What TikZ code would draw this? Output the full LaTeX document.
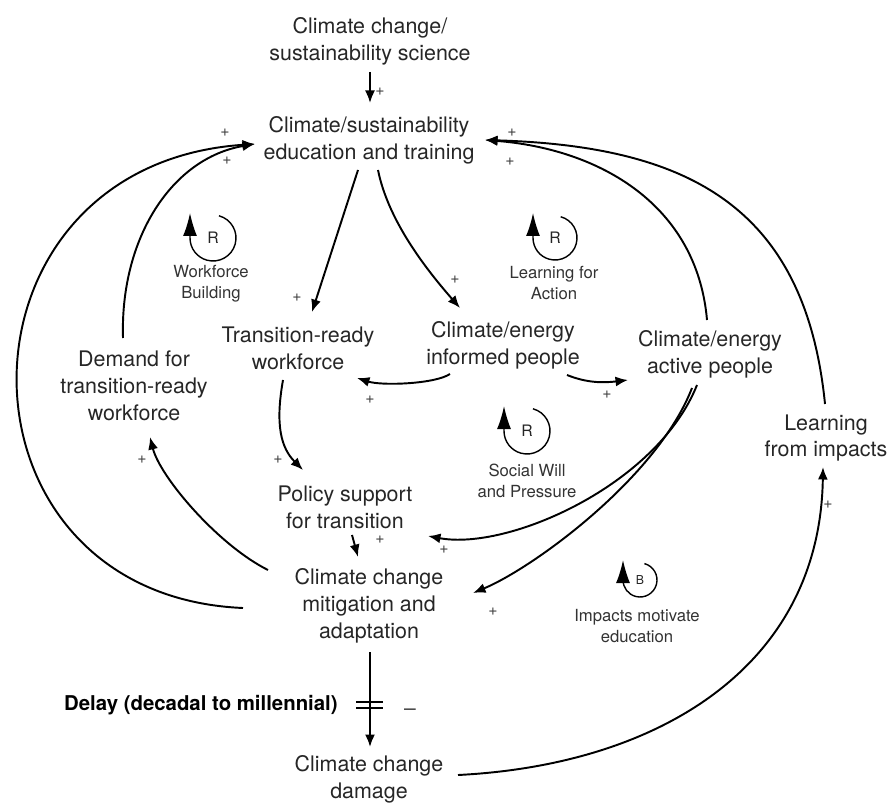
\documentclass[tikz,border=0pt]{standalone}
\usepackage{fontspec}
\setmainfont{TeX Gyre Heros}
\usetikzlibrary{arrows.meta}

\tikzset{
  var/.style={align=center, inner sep=0pt, text=black!85, font=\fontsize{12.2}{15.3}\selectfont},
  loopname/.style={align=center, inner sep=0pt, text=black!80, font=\fontsize{9.5}{12}\selectfont},
  looptag/.style={inner sep=0pt, text=black!85, font=\fontsize{9}{9}\selectfont},
  signlab/.style={inner sep=0pt, text=black!75, font=\fontsize{9}{9}\selectfont},
  link/.style={line width=1.1pt, -{Latex[length=0.25cm,width=0.2cm]}},
  looparrow/.style={line width=0.8pt, -{Latex[length=0.46cm,width=0.28cm]}}
}

\begin{document}
\begin{tikzpicture}[x=0.02cm,y=-0.02cm]
	\useasboundingbox (0,0) rectangle (891,803);

	% variables
	\node[var] (sci) at (370,41) {Climate change/\\sustainability science};
	\node[var] (edu) at (369,140) {Climate/sustainability\\education and training};
	\node[var] (trw) at (298,348) {Transition-ready\\workforce};
	\node[var] (inf) at (503,345) {Climate/energy\\informed people};
	\node[var] (act) at (710,354) {Climate/energy\\active people};
	\node[var] (dem) at (134,386) {Demand for\\transition-ready\\workforce};
	\node[var] (lfi) at (826,438) {Learning\\from impacts};
	\node[var] (pol) at (345,507) {Policy support\\for transition};
	\node[var] (mit) at (369,606) {Climate change\\mitigation and\\adaptation};
	\node[var] (dmg) at (369,779) {Climate change\\damage};
	\node[font=\fontsize{11.6}{14}\selectfont\bfseries, inner sep=0pt, anchor=east] (dly) at (338,705) {Delay (decadal to millennial)};

	% links
	\draw[link] ([shift={(0,31)}]sci.center) -- ([shift={(1,-37)}]edu.center);
	\draw[link] ([shift={(-11,30)}]edu.center) -- ([shift={(14,-36)}]trw.center);
	\draw[link] ([shift={(9,30)}]edu.center) .. controls +(10,50) and +(-35,-40) .. ([shift={(-43,-37)}]inf.center);
	\draw[link] ([shift={(-53,29)}]inf.center) .. controls +(-15,10) and +(25,8) .. ([shift={(59,30)}]trw.center);
	\draw[link] ([shift={(64,30)}]inf.center) .. controls +(20,8) and +(-25,3) .. ([shift={(-82,26)}]act.center);
	\draw[link] ([shift={(-15,32)}]trw.center) .. controls +(-8,45) and +(-22,-22) .. ([shift={(-42,-37)}]pol.center);
	\draw[link] ([shift={(7,28)}]pol.center) -- ([shift={(-11,-49)}]mit.center);
	\draw[link] ([shift={(-13,31)}]act.center) .. controls +(-40,100) and +(80,15) .. ([shift={(83,29)}]pol.center);
	\draw[link] ([shift={(-18,34)}]act.center) .. controls +(-35,90) and +(60,-25) .. ([shift={(104,-13)}]mit.center);
	\draw[link] ([shift={(-101,-36)}]mit.center) .. controls +(-50,-25) and +(10,40) .. ([shift={(16,51)}]dem.center);
	\draw[link] ([shift={(-126,2)}]mit.center) .. controls +(-302,-13) and +(-314,21) .. ([shift={(-114,4)}]edu.center);
	\draw[link] ([shift={(-11,-48)}]dem.center) .. controls +(-3,-100) and +(-83,14) .. ([shift={(-114,4)}]edu.center);
	\draw[link] ([shift={(-3,-34)}]act.center) .. controls +(-10,-115) and +(115,9) .. ([shift={(116,0)}]edu.center);
	\draw[link] ([shift={(-1,-34)}]lfi.center) .. controls +(-20,-200) and +(200,6) .. ([shift={(116,0)}]edu.center);
	\draw[link] ([shift={(89,-4)}]dmg.center) .. controls +(200,-10) and +(-3,200) .. ([shift={(-3,29)}]lfi.center);
	\draw[link] ([shift={(1,46)}]mit.center) -- ([shift={(1,-32)}]dmg.center);

	% delay mark
	\coordinate (bar) at (370,705);
	\draw[line width=1.1pt] ([shift={(-14,-3)}]bar) -- ++(27,0);
	\draw[line width=1.1pt] ([shift={(-14,3)}]bar) -- ++(27,0);

	% polarities
	\node[signlab] (s1) at (380,92) {+};
	\node[signlab] (s2) at (225,133) {+};
	\node[signlab] (s3) at (227,161) {+};
	\node[signlab] (s4) at (512,133) {+};
	\node[signlab] (s5) at (510,162) {+};
	\node[signlab] (s6) at (297,298) {+};
	\node[signlab] (s7) at (455,280) {+};
	\node[signlab] (s8) at (370,400) {+};
	\node[signlab] (s9) at (607,395) {+};
	\node[signlab] (s10) at (278,460) {+};
	\node[signlab] (s11) at (380,540) {+};
	\node[signlab] (s12) at (444,550) {+};
	\node[signlab] (s13) at (493,612) {+};
	\node[signlab] (s14) at (142,460) {+};
	\node[signlab] (s15) at (828,505) {+};
	\node[signlab, font=\fontsize{12}{12}\selectfont] (s16) at (410,712) {\textendash};

	% loops
	\node[looptag] (wfbR) at (213,238) {R};
	\draw[looparrow] ([shift={(75:0.46cm)}]wfbR.center) arc[start angle=75,end angle=-180,radius=0.46cm] -- ++(0,0.5cm);
	\node[loopname] (wfb) at (211,284) {Workforce\\Building};

	\node[looptag] (lfaR) at (555,238) {R};
	\draw[looparrow] ([shift={(75:0.44cm)}]lfaR.center) arc[start angle=75,end angle=-180,radius=0.44cm] -- ++(0,0.5cm);
	\node[loopname] (lfa) at (554,283) {Learning for\\Action};

	\node[looptag] (swpR) at (527,431) {R};
	\draw[looparrow] ([shift={(75:0.46cm)}]swpR.center) arc[start angle=75,end angle=-180,radius=0.46cm] -- ++(0,0.5cm);
	\node[loopname] (swp) at (527,481) {Social Will\\and Pressure};

	\node[looptag, font=\fontsize{7}{7}\selectfont] (impB) at (640,580) {B};
	\draw[looparrow] ([shift={(75:0.34cm)}]impB.center) arc[start angle=75,end angle=-180,radius=0.34cm] -- ++(0,0.4cm);
	\node[loopname] (imp) at (637,626) {Impacts motivate\\education};
\end{tikzpicture}
\end{document}
